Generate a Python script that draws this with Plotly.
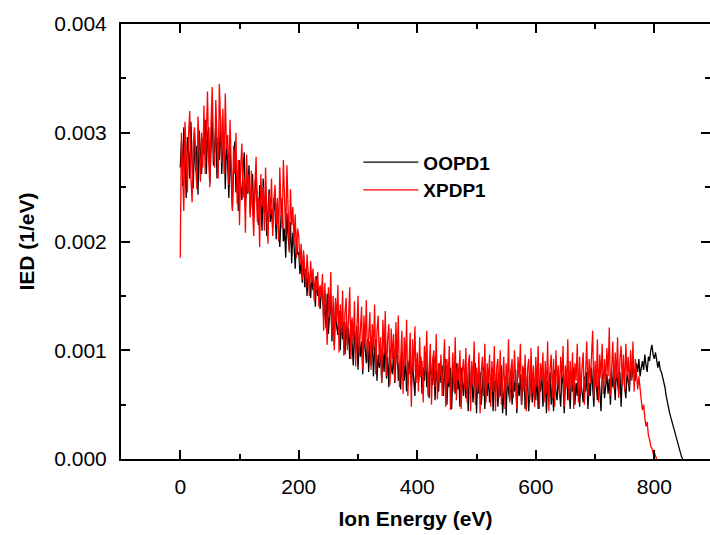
import plotly.graph_objects as go

# Ion energy grid step (eV); IED values in units of 1e-5 (1/eV)
step_ev = 2
oopd1_e5 = [
    268, 292, 251, 305, 278, 240, 296, 283, 258, 310, 272, 249, 300, 265, 288, 243, 302, 276, 262, 295,
    280, 312, 262, 298, 305, 254, 290, 318, 270, 284, 308, 258, 296, 275, 315, 262, 288, 300, 248, 292,
    272, 240, 285, 258, 230, 268, 292, 245, 262, 228, 275, 250, 238, 266, 282, 232, 255, 244, 270, 226,
    250, 262, 222, 245, 268, 230, 215, 252, 238, 210, 258, 226, 242, 205, 235, 248, 218, 230, 212, 240,
    228, 202, 235, 210, 195, 222, 240, 200, 212, 185, 226, 205, 192, 218, 180, 208, 196, 175, 202, 188,
    190, 170, 182, 162, 188, 158, 175, 150, 172, 165, 148, 170, 155, 162, 140, 168, 150, 158, 138, 152,
    158, 128, 146, 120, 152, 115, 140, 150, 108, 138, 104, 144, 122, 114, 136, 100, 132, 110, 126, 96,
    126, 104, 120, 92, 128, 100, 86, 118, 98, 122, 82, 112, 94, 108, 78, 116, 96, 88, 110, 80,
    108, 86, 114, 76, 100, 110, 72, 96, 84, 104, 70, 98, 80, 112, 74, 94, 66, 102, 84, 78,
    98, 70, 92, 104, 72, 88, 64, 98, 80, 72, 94, 62, 90, 78, 100, 66, 88, 76, 58, 92,
    86, 70, 82, 94, 60, 84, 72, 98, 66, 80, 56, 90, 76, 68, 94, 54, 82, 74, 62, 88,
    70, 86, 58, 78, 92, 50, 76, 66, 84, 46, 80, 72, 60, 88, 64, 76, 48, 84, 70, 58,
    80, 56, 74, 44, 86, 64, 76, 52, 68, 88, 42, 74, 60, 80, 50, 72, 84, 46, 70, 58,
    78, 52, 66, 84, 44, 72, 62, 80, 48, 70, 58, 86, 42, 66, 76, 40, 78, 62, 54, 82,
    50, 72, 62, 82, 42, 70, 58, 78, 50, 66, 84, 46, 64, 76, 44, 70, 80, 52, 64, 74,
    54, 78, 46, 70, 62, 84, 48, 66, 76, 42, 72, 58, 80, 50, 68, 44, 82, 62, 54, 76,
    62, 48, 78, 70, 42, 72, 82, 54, 68, 46, 76, 62, 84, 50, 70, 58, 78, 48, 72, 64,
    52, 76, 62, 80, 46, 70, 58, 84, 66, 48, 78, 70, 54, 82, 64, 44, 74, 80, 56, 70,
    78, 60, 74, 50, 82, 66, 76, 54, 86, 70, 60, 80, 48, 76, 84, 66, 56, 78, 72, 62,
    82, 74, 86, 78, 72, 88, 80, 92, 76, 84, 90, 82, 96, 86, 80, 94, 90, 100, 105, 96,
    92, 98, 88, 84, 90, 82, 80, 76, 72, 66, 58, 52, 46, 42, 38, 34, 28, 24, 20, 16,
    12, 8, 4, 2, 0,
]
xpdp1_e5 = [
    185, 300, 262, 228, 310, 275, 245, 298, 320, 258, 236, 290, 305, 270, 248, 315, 282, 255, 300, 268,
    325, 262, 298, 338, 275, 250, 312, 342, 282, 268, 330, 295, 258, 345, 300, 272, 322, 262, 336, 285,
    298, 252, 312, 270, 228, 288, 262, 300, 235, 275, 215, 268, 290, 240, 258, 208, 280, 245, 262, 222,
    265, 230, 205, 252, 278, 218, 240, 195, 262, 232, 250, 210, 268, 228, 198, 245, 225, 258, 205, 238,
    252, 215, 240, 200, 268, 228, 212, 275, 238, 205, 270, 222, 190, 248, 215, 232, 198, 225, 185, 212,
    205, 178, 198, 165, 192, 175, 158, 188, 170, 150, 182, 162, 175, 145, 168, 155, 172, 140, 160, 148,
    170, 118, 162, 140, 105, 158, 130, 172, 112, 150, 100, 148, 126, 160, 98, 142, 116, 155, 95, 135,
    148, 100, 135, 158, 92, 130, 108, 145, 85, 128, 150, 96, 118, 140, 82, 132, 104, 146, 90, 120,
    135, 82, 124, 100, 142, 78, 118, 132, 88, 112, 70, 128, 96, 136, 76, 110, 124, 68, 120, 92,
    115, 72, 126, 88, 132, 66, 104, 118, 60, 112, 86, 128, 58, 100, 116, 48, 110, 80, 122, 70,
    98, 62, 112, 75, 90, 52, 104, 80, 118, 58, 86, 106, 50, 92, 100, 66, 115, 55, 88, 74,
    96, 58, 84, 110, 48, 92, 70, 104, 45, 82, 98, 62, 112, 54, 88, 72, 100, 46, 80, 92,
    64, 102, 52, 86, 96, 44, 90, 68, 108, 50, 84, 62, 98, 42, 80, 94, 58, 106, 52, 88,
    70, 96, 48, 90, 62, 104, 44, 84, 92, 56, 100, 50, 78, 94, 46, 88, 66, 110, 52, 82,
    92, 56, 100, 70, 46, 94, 74, 106, 50, 86, 62, 96, 44, 82, 92, 54, 102, 60, 86, 48,
    94, 66, 104, 46, 88, 72, 98, 52, 90, 60, 108, 44, 82, 96, 56, 92, 48, 100, 68, 86,
    58, 94, 74, 104, 48, 86, 66, 110, 54, 90, 62, 98, 46, 88, 72, 106, 52, 94, 60, 84,
    98, 50, 88, 108, 58, 92, 70, 102, 118, 56, 90, 66, 110, 52, 96, 74, 106, 60, 92, 70,
    102, 76, 121, 58, 94, 108, 64, 98, 74, 112, 56, 92, 104, 68, 96, 62, 106, 76, 94, 66,
    100, 72, 108, 62, 92, 80, 64, 76, 60, 54, 45, 50, 38, 30, 34, 22, 18, 12, 10, 5,
    6, 2, 0,
]

oopd1_x = [i * step_ev for i in range(len(oopd1_e5))]
xpdp1_x = [i * step_ev for i in range(len(xpdp1_e5))]
oopd1_y = [v * 1e-5 for v in oopd1_e5]
xpdp1_y = [v * 1e-5 for v in xpdp1_e5]

x_range = [-100, 894]
y_range = [0, 0.004]
font_family = "Liberation Sans, Arial, Helvetica, sans-serif"

fig = go.Figure()
fig.add_trace(go.Scatter(x=oopd1_x, y=oopd1_y, name="OOPD1", mode="lines",
                         line=dict(color="black", width=1.3)))
fig.add_trace(go.Scatter(x=xpdp1_x, y=xpdp1_y, name="XPDP1", mode="lines",
                         line=dict(color="red", width=1.3), yaxis="y2"))

axis_common = dict(showgrid=False, zeroline=False, ticks="inside", ticklen=9,
                   tickwidth=1.5, tickcolor="black",
                   tickfont=dict(family=font_family, size=21, color="black"))

fig.update_layout(
    width=710, height=535,
    margin=dict(l=121, r=0, t=24, b=76),
    paper_bgcolor="white", plot_bgcolor="white",
    font=dict(family=font_family, color="black"),
    showlegend=True,
    legend=dict(x=0.403, y=0.650, xanchor="left", yanchor="middle",
                bgcolor="rgba(0,0,0,0)", borderwidth=0, itemwidth=55,
                font=dict(family=font_family, size=19, color="black", weight="bold"),
                tracegroupgap=0),
    xaxis=dict(range=x_range, dtick=200, tick0=0, showline=True, linecolor="black",
               linewidth=2, mirror="ticks", ticklabelstandoff=8,
               minor=dict(dtick=100, tick0=0, ticks="inside", ticklen=5,
                          tickwidth=1.5, tickcolor="black"),
               title=dict(text="Ion Energy (eV)", standoff=14,
                          font=dict(family=font_family, size=21, weight="bold")),
               **axis_common),
    yaxis=dict(range=y_range, dtick=0.001, tick0=0, tickformat=".3f",
               showline=True, linecolor="black", linewidth=2, mirror=False,
               ticklabelstandoff=8,
               minor=dict(dtick=0.0005, tick0=0, ticks="inside", ticklen=5,
                          tickwidth=1.5, tickcolor="black"),
               title=dict(text="IED (1/eV)", standoff=14,
                          font=dict(family=font_family, size=21, weight="bold")),
               **axis_common),
    yaxis2=dict(range=y_range, dtick=0.001, tick0=0, overlaying="y", side="right",
                anchor="x", showline=False, showticklabels=False,
                minor=dict(dtick=0.0005, tick0=0, ticks="inside", ticklen=5,
                           tickwidth=1.5, tickcolor="black"),
                showgrid=False, zeroline=False, ticks="inside", ticklen=9,
                tickwidth=1.5, tickcolor="black"),
)

fig.write_html("out.html")
